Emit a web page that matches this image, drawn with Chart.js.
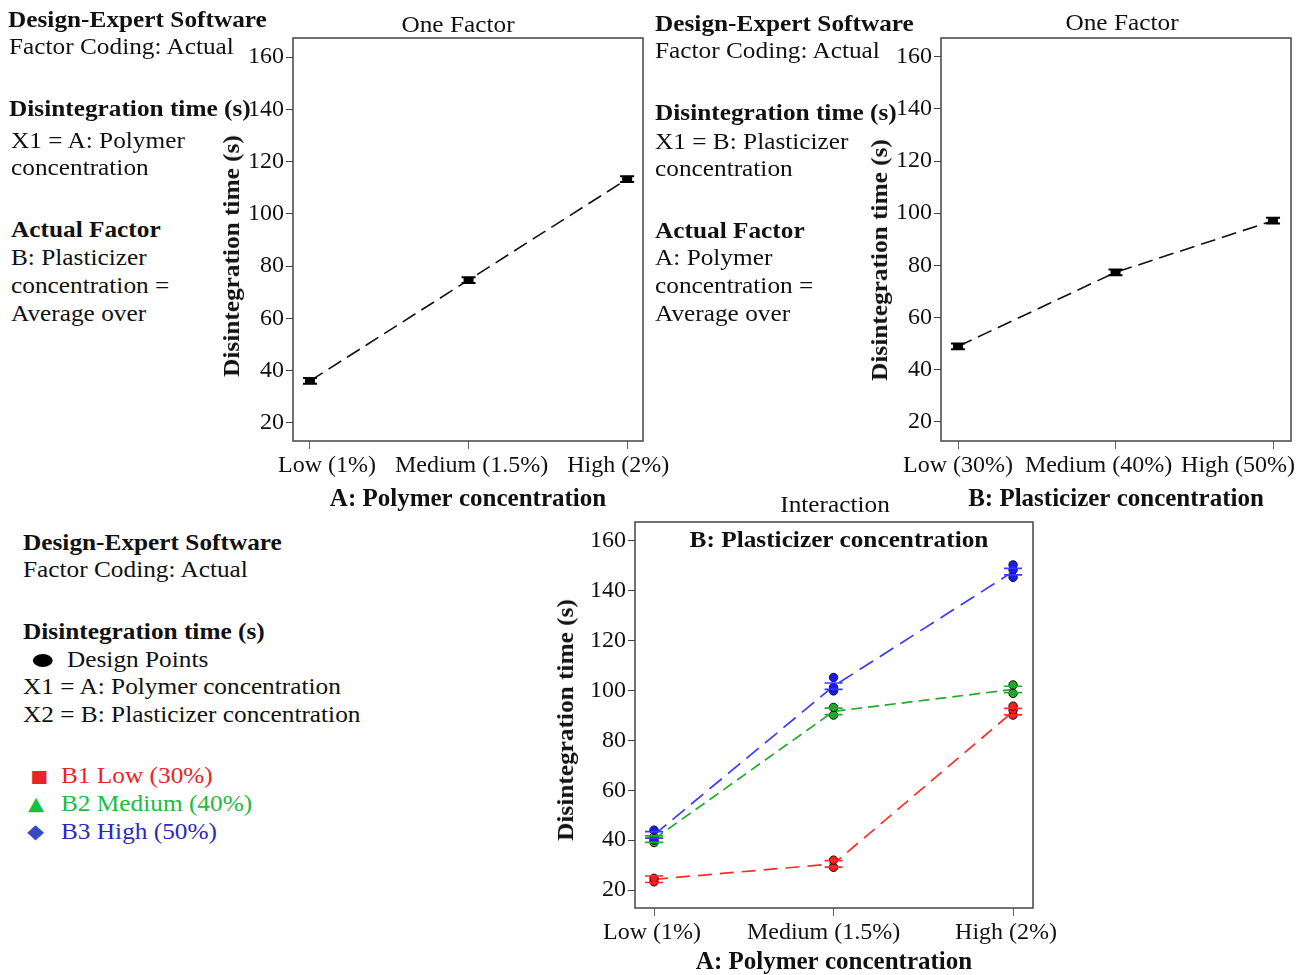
<!DOCTYPE html>
<html><head><meta charset="utf-8">
<script src="https://cdn.jsdelivr.net/npm/chart.js@4.4.1/dist/chart.umd.min.js"></script>
<style>
html,body{margin:0;padding:0;background:#fff;}
body{width:1314px;height:975px;position:relative;overflow:hidden;font-family:'Liberation Serif','Times New Roman',serif;color:#111;}
canvas{position:absolute;z-index:1;}
.t{position:absolute;font-size:23px;line-height:28px;height:28px;white-space:nowrap;z-index:2;transform-origin:0 50%;transform:scaleX(1.1);}
.b{font-weight:bold;}
.ctr{transform-origin:50% 50%;transform:translate(-50%,-50%) scaleX(1.1);line-height:normal;height:auto;}
.rot{transform-origin:50% 50%;transform:translate(-50%,-50%) rotate(-90deg) scaleX(1.1);line-height:normal;height:auto;font-weight:bold;}
.dot{display:inline-block;width:18px;height:13px;border-radius:50%;background:#000;position:absolute;left:-31px;top:8px;}
.mk{position:absolute;font-family:'DejaVu Sans',sans-serif;}
</style></head><body>

<!-- block 1 -->
<div class="t b" style="left:8px;top:6px">Design-Expert Software</div>
<div class="t" style="left:9px;top:33px">Factor Coding: Actual</div>
<div class="t b" style="left:9px;top:95px">Disintegration time (s)</div>
<div class="t" style="left:11px;top:127px">X1 = A: Polymer</div>
<div class="t" style="left:11px;top:154px">concentration</div>
<div class="t b" style="left:11px;top:216px">Actual Factor</div>
<div class="t" style="left:11px;top:244px">B: Plasticizer</div>
<div class="t" style="left:11px;top:272px">concentration =</div>
<div class="t" style="left:11px;top:300px">Average over</div>

<!-- block 2 -->
<div class="t b" style="left:655px;top:10px">Design-Expert Software</div>
<div class="t" style="left:655px;top:37px">Factor Coding: Actual</div>
<div class="t b" style="left:655px;top:99px">Disintegration time (s)</div>
<div class="t" style="left:655px;top:128px">X1 = B: Plasticizer</div>
<div class="t" style="left:655px;top:155px">concentration</div>
<div class="t b" style="left:655px;top:217px">Actual Factor</div>
<div class="t" style="left:655px;top:244px">A: Polymer</div>
<div class="t" style="left:655px;top:272px">concentration =</div>
<div class="t" style="left:655px;top:300px">Average over</div>

<!-- block 3 -->
<div class="t b" style="left:23px;top:529px">Design-Expert Software</div>
<div class="t" style="left:23px;top:556px">Factor Coding: Actual</div>
<div class="t b" style="left:23px;top:618px">Disintegration time (s)</div>
<div class="t" style="left:67px;top:646px"><span class="dot"></span>Design Points</div>
<div class="t" style="left:23px;top:673px">X1 = A: Polymer concentration</div>
<div class="t" style="left:23px;top:701px">X2 = B: Plasticizer concentration</div>
<div class="t" style="left:61px;top:762px;color:#ee2227"><span class="mk" style="left:-28px;top:0px;font-size:17px;color:#e8242b">■</span>B1 Low (30%)</div>
<div class="t" style="left:61px;top:790px;color:#20bb40"><span class="mk" style="left:-30px;top:-1px;font-size:19px;color:#14c040">▲</span>B2 Medium (40%)</div>
<div class="t" style="left:61px;top:818px;color:#2b2bbb"><span class="mk" style="left:-31px;top:-1px;font-size:20px;color:#3a48c8">◆</span>B3 High (50%)</div>

<!-- titles -->
<div class="t ctr" style="left:458px;top:25px">One Factor</div>
<div class="t ctr" style="left:1122px;top:23px">One Factor</div>
<div class="t ctr" style="left:835px;top:505px">Interaction</div>
<div class="t ctr b" style="left:839px;top:540px">B: Plasticizer concentration</div>
<div class="t rot" style="left:232px;top:256px">Disintegration time (s)</div>
<div class="t rot" style="left:880px;top:260px">Disintegration time (s)</div>
<div class="t rot" style="left:566px;top:720px">Disintegration time (s)</div>

<canvas id="c1" width="465" height="512" style="left:215px;top:0px"></canvas>
<canvas id="c2" width="451" height="512" style="left:863px;top:0px"></canvas>
<canvas id="c3" width="513" height="485" style="left:557px;top:490px"></canvas>

<script>
const polymerLevels = ['Low (1%)', 'Medium (1.5%)', 'High (2%)'];
const plasticizerLevels = ['Low (30%)', 'Medium (40%)', 'High (50%)'];
const yTickValues = [20, 40, 60, 80, 100, 120, 140, 160];

const polymerMeans = [36.1, 74.7, 113.3];
const polymerErr = [1.1, 1.1, 1.1];
const plasticizerMeans = [48.9, 77.3, 97.1];
const plasticizerErr = [1.1, 1.1, 1.1];

const b1Means = [24.3, 30.5, 91.5];
const b2Means = [40.4, 91.6, 100.4];
const b3Means = [42.1, 101.7, 147.6];
const interErr = [1.3, 1.3, 1.3];

const b1PointsX = [0, 0, 1, 1, 2, 2, 2];
const b1PointsY = [23.3, 24.7, 29.1, 32.0, 90.1, 92.1, 93.7];
const b2PointsX = [0, 0, 1, 1, 2, 2];
const b2PointsY = [39.0, 41.4, 90.1, 93.2, 98.8, 102.2];
const b3PointsX = [0, 0, 1, 1, 1, 2, 2, 2];
const b3PointsY = [40.0, 44.0, 99.8, 101.2, 105.2, 145.3, 148.3, 150.3];

const FONT = "'Liberation Serif','Times New Roman',serif";
const RED = '#ff2a2a', GREEN = '#22aa2a', BLUE = '#3a3aff';

const frame = {
  id: 'frame',
  afterDraw(chart) {
    const {ctx, chartArea: a} = chart;
    ctx.save();
    ctx.strokeStyle = '#444';
    ctx.lineWidth = 1.5;
    ctx.strokeRect(a.left, a.top, a.right - a.left, a.bottom - a.top);
    ctx.restore();
  }
};

const errBars = {
  id: 'errBars',
  afterDatasetsDraw(chart) {
    const {ctx} = chart;
    const xs = chart.scales.x, ys = chart.scales.y;
    chart.data.datasets.forEach(ds => {
      if (!ds.errors) return;
      ds.data.forEach((p, j) => {
        const x = xs.getPixelForValue(p.x);
        const yt = ys.getPixelForValue(p.y + ds.errors[j]);
        const yb = ys.getPixelForValue(p.y - ds.errors[j]);
        ctx.save();
        ctx.strokeStyle = ds.errColor;
        ctx.lineWidth = ds.errWidth;
        ctx.beginPath();
        ctx.moveTo(x - ds.capHalf, yt); ctx.lineTo(x + ds.capHalf, yt);
        ctx.moveTo(x - ds.capHalf, yb); ctx.lineTo(x + ds.capHalf, yb);
        if (ds.errBody) { ctx.moveTo(x, yt); ctx.lineTo(x, yb); }
        ctx.stroke();
        if (ds.errBody) {
          ctx.fillStyle = ds.errColor;
          ctx.fillRect(x - 5, yt, 10, yb - yt);
        }
        ctx.restore();
      });
    });
  }
};

function toXY(xs, ys) { return ys.map((v, i) => ({x: xs[i], y: v})); }
function meansXY(m) { return m.map((v, i) => ({x: i, y: v})); }

function makeChart(id, cfg) {
  return new Chart(document.getElementById(id), {
    type: 'scatter',
    data: {datasets: cfg.datasets},
    plugins: [frame, errBars],
    options: {
      responsive: false, animation: false, devicePixelRatio: 1,
      layout: {padding: {top: cfg.padTop, right: cfg.padRight, left: 0, bottom: 0}},
      plugins: {legend: {display: false}, tooltip: {enabled: false}},
      scales: {
        x: {
          type: 'linear', min: cfg.xMin, max: cfg.xMax,
          afterBuildTicks: s => { s.ticks = cfg.labels.map((_, i) => ({value: i})); },
          afterFit: s => { s.height = cfg.xHeight; s.paddingLeft = 0; s.paddingRight = 0; },
          afterUpdate: s => {
            if (s._shiftWrapped) return;
            s._shiftWrapped = true;
            const orig = s._computeLabelItems;
            s._computeLabelItems = function (ca) {
              const items = orig.call(this, ca);
              items.forEach((it, i) => { it.options.translation[0] += (cfg.labelShift[i] || 0); });
              return items;
            };
          },
          ticks: {autoSkip: false, maxRotation: 0, minRotation: 0, padding: 2, color: '#111',
                  font: {family: FONT, size: 24}, callback: v => cfg.labels[v]},
          grid: {display: true, drawOnChartArea: false, drawTicks: true, tickLength: 8, color: '#666'},
          border: {display: false},
          title: {display: true, text: cfg.xTitle, color: '#111',
                  font: {family: FONT, size: 25, weight: 'bold', lineHeight: 1.0}, padding: {top: 0, bottom: 0}}
        },
        y: {
          type: 'linear', min: cfg.yMin, max: cfg.yMax,
          afterBuildTicks: s => { s.ticks = yTickValues.map(v => ({value: v})); },
          afterFit: s => { s.width = 78; s.paddingTop = 0; s.paddingBottom = 0; },
          ticks: {autoSkip: false, padding: 2, color: '#111', font: {family: FONT, size: 24}},
          grid: {display: true, drawOnChartArea: false, drawTicks: true, tickLength: 7, color: '#444'},
          border: {display: false},
          title: {display: false}
        }
      }
    }
  });
}

function oneFactorSet(means, errs) {
  return {
    data: meansXY(means), showLine: true, borderColor: '#111', borderWidth: 1.6,
    borderDash: [15, 7], pointRadius: 0, errors: errs, errColor: '#000', errWidth: 2,
    capHalf: 7, errBody: true
  };
}

makeChart('c1', {
  labels: polymerLevels, xTitle: 'A: Polymer concentration', labelShift: [17, 3, -9],
  xMin: -0.107, xMax: 2.1, yMin: 13.1, yMax: 167.3,
  padTop: 38, padRight: 37, xHeight: 71,
  datasets: [oneFactorSet(polymerMeans, polymerErr)]
});

makeChart('c2', {
  labels: plasticizerLevels, xTitle: 'B: Plasticizer concentration', labelShift: [0, -17, -35],
  xMin: -0.108, xMax: 2.114, yMin: 12.6, yMax: 167.2,
  padTop: 38, padRight: 23, xHeight: 71,
  datasets: [oneFactorSet(plasticizerMeans, plasticizerErr)]
});

function pointSet(xs, ys, color) {
  return {data: toXY(xs, ys), showLine: false, pointRadius: 4.2, pointBackgroundColor: color,
          pointBorderColor: '#111', pointBorderWidth: 1};
}
function interLine(means, color, dash) {
  return {data: meansXY(means), showLine: true, borderColor: color, borderWidth: 1.7,
          borderDash: dash, pointRadius: 0, errors: interErr, errColor: color, errWidth: 1.6,
          capHalf: 9, errBody: false};
}

makeChart('c3', {
  labels: polymerLevels, xTitle: 'A: Polymer concentration', labelShift: [-2, -10, -7],
  xMin: -0.106, xMax: 2.111, yMin: 12.8, yMax: 167.5,
  padTop: 32, padRight: 37, xHeight: 67,
  datasets: [
    pointSet(b3PointsX, b3PointsY, '#1a1aff'),
    pointSet(b2PointsX, b2PointsY, '#1faa2a'),
    pointSet(b1PointsX, b1PointsY, '#ff1a1a'),
    interLine(b3Means, BLUE, [16, 8]),
    interLine(b2Means, GREEN, [11, 6]),
    interLine(b1Means, RED, [14, 8])
  ]
});
</script>
</body></html>
